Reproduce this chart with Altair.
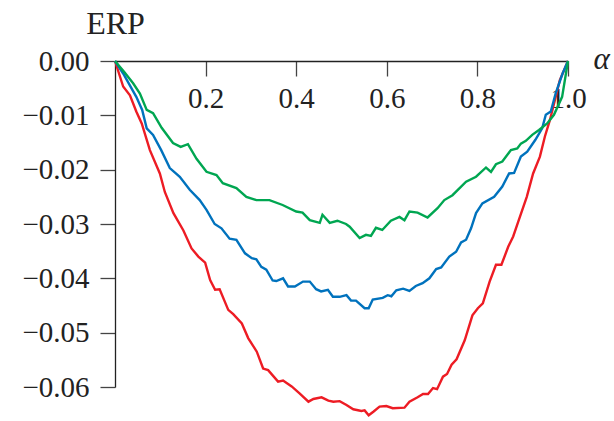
import altair as alt
import pandas as pd

green_x = [0.000, 0.020, 0.040, 0.055, 0.070, 0.084, 0.103, 0.128, 0.145, 0.161, 0.180, 0.202, 0.224, 0.238,
           0.268, 0.290, 0.312, 0.341, 0.370, 0.400, 0.414, 0.430, 0.452, 0.458, 0.474, 0.491, 0.510, 0.518,
           0.540, 0.554, 0.565, 0.576, 0.590, 0.609, 0.628, 0.639, 0.650, 0.668, 0.690, 0.712, 0.727, 0.745,
           0.775, 0.797, 0.819, 0.830, 0.841, 0.855, 0.874, 0.888, 0.896, 0.907, 0.921, 0.936, 0.954, 0.969,
           0.987, 1.000]
green_y = [0.0000, -0.0020, -0.0041, -0.0060, -0.0090, -0.0096, -0.0123, -0.0151, -0.0158, -0.0153, -0.0180,
           -0.0204, -0.0210, -0.0225, -0.0234, -0.0250, -0.0256, -0.0256, -0.0265, -0.0277, -0.0279, -0.0293,
           -0.0298, -0.0283, -0.0298, -0.0294, -0.0300, -0.0305, -0.0326, -0.0320, -0.0322, -0.0307, -0.0311,
           -0.0294, -0.0287, -0.0293, -0.0277, -0.0279, -0.0288, -0.0271, -0.0256, -0.0247, -0.0222, -0.0213,
           -0.0196, -0.0204, -0.0190, -0.0185, -0.0164, -0.0161, -0.0152, -0.0147, -0.0136, -0.0127, -0.0115,
           -0.0099, -0.0066, 0.0000]

blue_x = [0.000, 0.018, 0.047, 0.060, 0.070, 0.084, 0.102, 0.121, 0.143, 0.165, 0.187, 0.202, 0.220, 0.235,
          0.253, 0.268, 0.287, 0.302, 0.312, 0.323, 0.334, 0.348, 0.356, 0.371, 0.382, 0.397, 0.415, 0.430,
          0.444, 0.455, 0.470, 0.481, 0.496, 0.511, 0.521, 0.532, 0.551, 0.560, 0.569, 0.591, 0.602, 0.610,
          0.621, 0.636, 0.650, 0.664, 0.679, 0.694, 0.709, 0.720, 0.738, 0.753, 0.764, 0.775, 0.786, 0.797,
          0.811, 0.837, 0.855, 0.870, 0.881, 0.896, 0.910, 0.928, 0.943, 0.951, 0.962, 0.973, 0.988, 1.000]
blue_y = [0.0, -0.0023, -0.0066, -0.0090, -0.0124, -0.0136, -0.0164, -0.0197, -0.0213, -0.0237, -0.0256,
          -0.0274, -0.0300, -0.0308, -0.0327, -0.0329, -0.0354, -0.0363, -0.0365, -0.0379, -0.0384, -0.0404,
          -0.0405, -0.0400, -0.0415, -0.0415, -0.0406, -0.0406, -0.0420, -0.0424, -0.0421, -0.0434, -0.0434,
          -0.0431, -0.0441, -0.0441, -0.0455, -0.0455, -0.0439, -0.0436, -0.0431, -0.0433, -0.0422, -0.0419,
          -0.0423, -0.0414, -0.0409, -0.0400, -0.0383, -0.0380, -0.0360, -0.0351, -0.0334, -0.0329, -0.0308,
          -0.0280, -0.0262, -0.0250, -0.0231, -0.0207, -0.0206, -0.0176, -0.0167, -0.0145, -0.0124, -0.0099,
          -0.0093, -0.0059, -0.0023, 0.0]

red_x = [0.000, 0.018, 0.033, 0.047, 0.059, 0.077, 0.099, 0.110, 0.129, 0.151, 0.169, 0.184, 0.199, 0.210,
         0.221, 0.231, 0.250, 0.261, 0.280, 0.294, 0.313, 0.327, 0.338, 0.360, 0.371, 0.390, 0.408, 0.427,
         0.438, 0.456, 0.471, 0.482, 0.496, 0.511, 0.526, 0.544, 0.551, 0.560, 0.571, 0.584, 0.599, 0.613,
         0.639, 0.650, 0.668, 0.680, 0.691, 0.702, 0.711, 0.724, 0.733, 0.743, 0.754, 0.772, 0.789, 0.801,
         0.812, 0.827, 0.841, 0.853, 0.868, 0.879, 0.890, 0.909, 0.923, 0.938, 0.949, 0.960, 0.971, 0.982,
         1.000]
red_y = [0.0, -0.0047, -0.0063, -0.0093, -0.0115, -0.0164, -0.0207, -0.0241, -0.0280, -0.0312, -0.0345,
         -0.0360, -0.0371, -0.0403, -0.0421, -0.0420, -0.0458, -0.0466, -0.0483, -0.0510, -0.0535, -0.0566,
         -0.0569, -0.0590, -0.0588, -0.0599, -0.0612, -0.0627, -0.0622, -0.0619, -0.0625, -0.0627, -0.0626,
         -0.0633, -0.0641, -0.0644, -0.0643, -0.0652, -0.0645, -0.0636, -0.0635, -0.0639, -0.0638, -0.0627,
         -0.0619, -0.0613, -0.0613, -0.0602, -0.0604, -0.0581, -0.0576, -0.0559, -0.0549, -0.0514, -0.0468,
         -0.0455, -0.0446, -0.0406, -0.0375, -0.0375, -0.0342, -0.0323, -0.0296, -0.0250, -0.0207, -0.0176,
         -0.0139, -0.0109, -0.0072, -0.0035, 0.0]

x_ticks = [0.2, 0.4, 0.6, 0.8, 1.0]
y_ticks = [0.0, -0.01, -0.02, -0.03, -0.04, -0.05, -0.06]

W, H = 453, 326
FONT = "Liberation Serif"

x_scale = alt.Scale(domain=[0, 1], nice=False, zero=False)
y_scale = alt.Scale(domain=[-0.06, 0], nice=False, zero=False)

x_axis = alt.Axis(orient="bottom", offset=-H, values=x_ticks, format=".1f", tickSize=15,
                  labelPadding=8, title="α", titleX=W + 25, titleY=7, titleAlign="left",
                  titleBaseline="alphabetic", titleAngle=0, titleFont=FONT, titleFontSize=31,
                  titleFontStyle="italic", titleFontWeight="normal", titleColor="#222222",
                  labelFlush=False)
y_axis = alt.Axis(values=y_ticks, format=".2f", tickSize=15, labelPadding=11,
                  title="ERP", titleAngle=0, titleX=0, titleY=-28, titleAlign="center",
                  titleBaseline="alphabetic", titleFont=FONT, titleFontSize=32,
                  titleFontWeight="normal", titleColor="#222222")


def series(xs, ys, color):
    df = pd.DataFrame({"alpha": xs, "erp": ys})
    return alt.Chart(df).mark_line(color=color, strokeWidth=2.4, clip=False).encode(
        x=alt.X("alpha:Q", scale=x_scale, axis=x_axis),
        y=alt.Y("erp:Q", scale=y_scale, axis=y_axis),
        order="alpha:Q",
    )


chart = alt.layer(
    series(red_x, red_y, "#ED1C24"),
    series(blue_x, blue_y, "#0072BD"),
    series(green_x, green_y, "#00A651"),
).properties(
    width=W, height=H,
    autosize=alt.AutoSizeParams(type="none"),
    padding={"left": 115, "top": 61, "right": 46, "bottom": 34},
).configure_view(stroke=None).configure_axis(
    grid=False, labelFont=FONT, labelFontSize=29, labelColor="#222222",
    domainColor="#222222", tickColor="#444444", domainWidth=1.3, tickWidth=1.3,
)

chart.save("out.html", embed_options={"renderer": "svg", "actions": False})
